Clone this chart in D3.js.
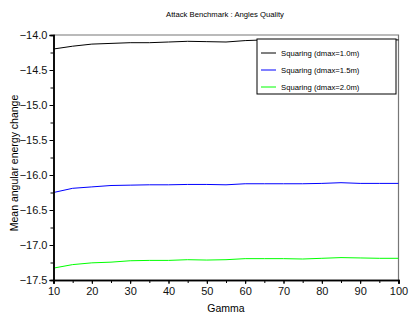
<!DOCTYPE html>
<html>
<head>
	<meta charset="utf-8">
	<title>Attack Benchmark : Angles Quality</title>
	<script src="https://d3js.org/d3.v7.min.js"></script>
	<style>
		body { margin: 0; background: #fff; }
		text { font-family: "Liberation Sans", Arial, sans-serif; }
	</style>
</head>
<body>
	<div class="chart"></div>

	<script type="text/javascript">

		var gamma = [10, 15, 20, 25, 30, 35, 40, 45, 50, 55, 60, 65, 70, 75, 80, 85, 90, 95, 100]
		var dmax10 = [-14.20, -14.16, -14.13, -14.12, -14.11, -14.11, -14.10, -14.09, -14.095, -14.10, -14.08, -14.07, -14.07, -14.07, -14.07, -14.07, -14.07, -14.07, -14.07]
		var dmax15 = [-16.25, -16.19, -16.17, -16.15, -16.145, -16.14, -16.14, -16.135, -16.135, -16.14, -16.125, -16.125, -16.125, -16.125, -16.12, -16.11, -16.12, -16.12, -16.12]
		var dmax20 = [-17.33, -17.28, -17.255, -17.245, -17.225, -17.22, -17.22, -17.21, -17.215, -17.21, -17.195, -17.195, -17.195, -17.2, -17.19, -17.18, -17.185, -17.19, -17.19]
		var seriesNames = ['Squaring (dmax=1.0m)', 'Squaring (dmax=1.5m)', 'Squaring (dmax=2.0m)']
		var seriesColors = ['#000000', '#0000ff', '#00ff00']
		var xTicks = [10, 20, 30, 40, 50, 60, 70, 80, 90, 100]
		var yTicks = [-14.0, -14.5, -15.0, -15.5, -16.0, -16.5, -17.0, -17.5]

		var width = 409
		var height = 318
		// 注意：不能用 top 作为全局变量名（window.top）
		var plotL = 53.5, plotR = 398.5, plotT = 35, plotB = 280

		var svg = d3.select('.chart').append('svg')
			.attr('width', width)
			.attr('height', height)

		var x = d3.scaleLinear().domain([10, 100]).range([plotL, plotR])
		var y = d3.scaleLinear().domain([-17.5, -14.0]).range([plotB, plotT])

		// 上、右边框（灰色）
		svg.append('path')
			.attr('d', `M${plotL},${plotT}H${plotR}V${plotB}`)
			.attr('fill', 'none')
			.attr('stroke', '#777')
			.attr('stroke-width', 1.2)

		// 曲线
		var series = [dmax10, dmax15, dmax20]
		var line = d3.line()
			.x((d, i) => x(gamma[i]))
			.y((d) => y(d))
		series.forEach((s, k) => {
			svg.append('path')
				.datum(s)
				.attr('d', line)
				.attr('fill', 'none')
				.attr('stroke', seriesColors[k])
				.attr('stroke-width', 1)
		})

		// 坐标轴
		var fmt = (d) => d3.format('.1f')(d).replace('-', '\u2212')
		var xAxis = svg.append('g').attr('transform', `translate(0,${plotB})`)
		xAxis.call(d3.axisBottom(x).tickValues(d3.range(10, 101, 5)).tickSize(3).tickFormat(''))
		xAxis.append('g').call(d3.axisBottom(x).tickValues(xTicks).tickSize(4).tickPadding(3).tickFormat(d3.format('d')))
		xAxis.selectAll('.domain').attr('stroke-width', 1.5)
		xAxis.selectAll('text').style('font-size', '11px').attr('fill', '#111')

		var yAxis = svg.append('g').attr('transform', `translate(${plotL},0)`)
		yAxis.call(d3.axisLeft(y).tickValues(d3.range(-17.5, -13.99, 0.25)).tickSize(3).tickFormat(''))
		yAxis.append('g').call(d3.axisLeft(y).tickValues(yTicks).tickSize(4).tickPadding(2).tickFormat(fmt))
		yAxis.selectAll('.domain').attr('stroke-width', 1.5)
		yAxis.selectAll('text').style('font-size', '11px').attr('fill', '#111')

		// 标题
		svg.append('text')
			.attr('x', 225).attr('y', 17)
			.attr('text-anchor', 'middle')
			.style('font-size', '7.7px')
			.text('Attack Benchmark : Angles Quality')

		svg.append('text')
			.attr('x', 226).attr('y', 312)
			.attr('text-anchor', 'middle')
			.style('font-size', '10.5px')
			.text('Gamma')

		svg.append('text')
			.attr('transform', 'translate(18,163) rotate(-90)')
			.attr('text-anchor', 'middle')
			.style('font-size', '10.5px')
			.text('Mean angular energy change')

		// 图例
		var legend = svg.append('g').attr('transform', 'translate(257,39)')
		legend.append('rect')
			.attr('x', 0).attr('y', 0)
			.attr('width', 139).attr('height', 55)
			.attr('fill', '#fff')
			.attr('stroke', '#000')
			.attr('stroke-width', 1)
		seriesNames.forEach((name, k) => {
			var ly = 14 + k * 17
			legend.append('line')
				.attr('x1', 4).attr('x2', 19)
				.attr('y1', ly).attr('y2', ly)
				.attr('stroke', seriesColors[k])
			legend.append('text')
				.attr('x', 24).attr('y', ly + 3)
				.style('font-size', '7.7px')
				.text(name)
		})

	</script>
</body>
</html>
